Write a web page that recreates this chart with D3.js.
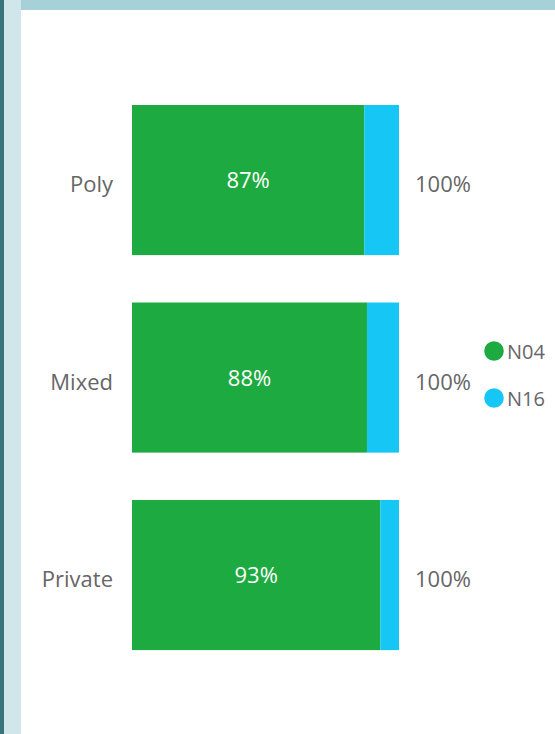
<!DOCTYPE html>
<html>
<head>
<meta charset="utf-8">
<script src="https://cdn.jsdelivr.net/npm/d3@7"></script>
<style>
  body { margin: 0; background: #fff; }
  svg { display: block; font-family: "Segoe UI", "Open Sans", sans-serif; }
</style>
</head>
<body>
<div id="chart"></div>
<script>
// data
var categories = ["Poly", "Mixed", "Private"];
var seriesNames = ["N04", "N16"];
var n04 = [0.87, 0.88, 0.93];
var n16 = [0.13, 0.12, 0.07];
var totalLabels = ["100%", "100%", "100%"];
var colors = ["#1daa40", "#16c7f5"];

var width = 555, height = 734;

var svg = d3.select("#chart").append("svg")
    .attr("width", width)
    .attr("height", height);

// page frame bits (left strips, top band)
svg.append("rect").attr("x", 0).attr("y", 0).attr("width", 4).attr("height", height).attr("fill", "#3a757b");
svg.append("rect").attr("x", 4).attr("y", 0).attr("width", 17).attr("height", height).attr("fill", "#d0e6ea");
svg.append("rect").attr("x", 21).attr("y", 0).attr("width", width - 21).attr("height", 10).attr("fill", "#a6d1d8");

var x = d3.scaleLinear().domain([0, 1]).range([132, 399]);
var y = d3.scaleBand().domain(categories).range([57.6, 697.5]).padding(0.24);

// stack the two series
var rows = categories.map(function(c, i) { return {cat: c, N04: n04[i], N16: n16[i]}; });
var stacked = d3.stack().keys(seriesNames)(rows);

var g = svg.append("g");

g.selectAll(".series")
  .data(stacked)
  .enter().append("g")
    .attr("class", "series")
    .attr("fill", function(d, i) { return colors[i]; })
  .selectAll("rect")
  .data(function(d) { return d; })
  .enter().append("rect")
    .attr("x", function(d) { return x(d[0]); })
    .attr("width", function(d) { return x(d[1]) - x(d[0]); })
    .attr("y", function(d) { return y(d.data.cat); })
    .attr("height", y.bandwidth());

// labels inside green
g.selectAll(".inner")
  .data(rows)
  .enter().append("text")
    .attr("class", "inner")
    .attr("x", function(d) { return (x(0) + x(d.N04)) / 2; })
    .attr("y", function(d) { return y(d.cat) + y.bandwidth() / 2 + 8; })
    .attr("text-anchor", "middle")
    .attr("fill", "#fff")
    .attr("font-size", 22)
    .text(function(d) { return Math.round(d.N04 * 100) + "%"; });

// category labels
g.selectAll(".cat")
  .data(categories)
  .enter().append("text")
    .attr("x", 113)
    .attr("y", function(d) { return y(d) + y.bandwidth() / 2 + 12; })
    .attr("text-anchor", "end")
    .attr("fill", "#666")
    .attr("font-size", 22)
    .text(function(d) { return d; });

// totals
g.selectAll(".tot")
  .data(categories)
  .enter().append("text")
    .attr("x", 415)
    .attr("y", function(d) { return y(d) + y.bandwidth() / 2 + 12; })
    .attr("fill", "#666")
    .attr("font-size", 22)
    .text(function(d, i) { return totalLabels[i]; });

// legend
var legend = svg.append("g").attr("transform", "translate(494,351)");
var item = legend.selectAll(".item")
  .data(seriesNames)
  .enter().append("g")
    .attr("transform", function(d, i) { return "translate(0," + (i * 47) + ")"; });
item.append("circle").attr("r", 9.8).attr("fill", function(d, i) { return colors[i]; });
item.append("text")
    .attr("x", 13)
    .attr("y", 8)
    .attr("fill", "#666")
    .attr("font-size", 20)
    .text(function(d) { return d; });
</script>
</body>
</html>
